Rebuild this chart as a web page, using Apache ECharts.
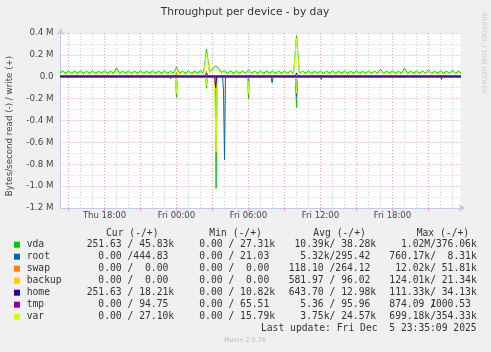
<!DOCTYPE html>
<html>
<head>
<meta charset="utf-8">
<script src="https://cdn.jsdelivr.net/npm/echarts@6/dist/echarts.min.js"></script>
<style>
  html, body { margin: 0; padding: 0; background: #f0f0f0; }
  #chart { width: 491px; height: 352px; }
</style>
</head>
<body>
<div id="chart"></div>
<script>
// x values are minutes since Thu 00:00, y values are kB/s (read negative, write positive)
const X_MIN = 860    // Thu 14:20
const X_MAX = 2860   // Fri 23:40

// grid / label positions on the time axis
const majorTicks = [900, 1080, 1260, 1440, 1620, 1800, 1980, 2160, 2340, 2520, 2700]
const hourTicks = [960, 1020, 1140, 1200, 1320, 1380, 1500, 1560, 1680, 1740, 1860, 1920,
  2040, 2100, 2220, 2280, 2400, 2460, 2580, 2640, 2760, 2820]
const labelTicks = [1080, 1440, 1800, 2160, 2520]
const labelText = ['Thu 18:00', 'Fri 00:00', 'Fri 06:00', 'Fri 12:00', 'Fri 18:00']

// write values on a 15 minute grid starting Thu 14:15
const vdaWrite = [
  32, 54, 32, 52, 33, 53, 32, 55, 31, 52,
  32, 53, 32, 52, 33, 54, 32, 53, 32, 82,
  32, 52, 33, 54, 32, 52, 32, 53, 33, 52,
  32, 54, 32, 52, 33, 53, 32, 52, 32, 90,
  33, 52, 32, 54, 32, 53, 32, 55, 33, 253,
  45, 70, 100, 75, 40, 56, 33, 54, 32, 52,
  32, 53, 33, 65, 32, 53, 32, 52, 32, 54,
  33, 52, 32, 53, 32, 52, 33, 54, 32, 376,
  33, 52, 32, 54, 32, 52, 33, 53, 32, 52,
  32, 54, 33, 52, 32, 53, 32, 52, 33, 54,
  32, 52, 32, 53, 33, 52, 32, 70, 32, 52,
  33, 54, 32, 52, 32, 77, 33, 52, 32, 54,
  32, 53, 33, 65, 32, 52, 32, 54, 33, 52,
  32, 60, 32, 53, 32
]
const varWrite = [
  19, 42, 19, 40, 20, 42, 19, 43, 19, 41,
  19, 42, 20, 40, 19, 42, 19, 41, 19, 60,
  19, 41, 20, 42, 19, 40, 19, 42, 20, 41,
  19, 42, 19, 40, 20, 41, 19, 42, 19, 70,
  20, 41, 19, 42, 19, 40, 19, 43, 20, 220,
  35, 55, 70, 50, 30, 44, 20, 42, 19, 41,
  19, 42, 20, 50, 19, 41, 19, 40, 19, 42,
  20, 41, 19, 42, 19, 40, 20, 42, 19, 354,
  20, 41, 19, 42, 19, 40, 20, 42, 19, 41,
  19, 42, 20, 40, 19, 41, 19, 42, 20, 43,
  19, 41, 19, 42, 20, 40, 19, 55, 19, 41,
  20, 42, 19, 41, 19, 60, 20, 41, 19, 42,
  19, 41, 20, 52, 19, 40, 19, 42, 20, 41,
  19, 48, 19, 42, 19
]
const writeTimes = vdaWrite.map((_, k) => 855 + 15 * k)

// sparse [minute, kB/s] series
const homeWrite   = [[855, 9], [1585, 9], [1590, 30], [1595, 9], [2035, 9], [2040, 34], [2045, 9], [2865, 9]]
const swapWrite   = [[855, 0], [1435, 0], [1440, 45], [1445, 0], [1585, 0], [1590, 52], [1595, 0], [2865, 0]]
const backupWrite = [[855, 0], [1585, 0], [1590, 21], [1595, 0], [2865, 0]]
const rootWrite   = [[855, 0], [2035, 0], [2040, 8], [2045, 0], [2865, 0]]
const tmpWrite    = [[855, 0], [2865, 0]]

const vdaRead = [[855, 0], [1435, 0], [1440, -190], [1445, 0], [1585, 0], [1590, -105], [1595, 0],
  [1633, 0], [1638, -1020], [1643, 0], [1795, 0], [1800, -200], [1805, 0],
  [2035, 0], [2040, -280], [2045, 0], [2865, 0]]
const rootRead = [[855, 0], [1405, 0], [1410, -20], [1415, 0], [1670, 0], [1675, -120], [1680, -760], [1685, 0],
  [1730, 0], [1735, -10], [1795, -10], [1800, -40], [1805, 0], [1913, 0], [1918, -55], [1923, 0],
  [2035, 0], [2040, -180], [2045, 0], [2158, 0], [2163, -25], [2168, 0], [2760, 0], [2765, -25], [2770, 0], [2865, 0]]
const varRead = [[855, 0], [1435, 0], [1440, -150], [1445, 0], [1585, 0], [1590, -80], [1595, 0],
  [1628, 0], [1633, -250], [1638, -690], [1643, -150], [1648, 0], [1795, 0], [1800, -150], [1805, 0],
  [2035, 0], [2040, -150], [2045, 0], [2296, 0], [2301, -20], [2306, 0], [2580, 0], [2585, -15], [2590, 0],
  [2695, 0], [2700, -20], [2705, 0], [2865, 0]]
const homeRead   = [[855, 0], [1631, 0], [1636, -100], [1641, 0], [2865, 0]]
const backupRead = [[855, 0], [1633, 0], [1638, -124], [1643, 0], [2865, 0]]
const swapRead   = [[855, 0], [1633, 0], [1638, -12], [1643, 0], [2865, 0]]
const tmpRead    = [[855, 0], [2865, 0]]

const COLORS = {
  vda: '#00cc00', root: '#0066b3', swap: '#ff8000', backup: '#ffcc00',
  home: '#330099', tmp: '#990099', var: '#ccff00',
}

// legend table text
const legendHeaders = ['Cur (-/+)', 'Min (-/+)', 'Avg (-/+)', 'Max (-/+)']
const legendRows = [
  ['vda',    '251.63 / 45.83k', '  0.00 / 27.31k', ' 10.39k/ 38.28k', '  1.02M/376.06k'],
  ['root',   '  0.00 /444.83 ', '  0.00 / 21.03 ', '  5.32k/295.42 ', '760.17k/  8.31k'],
  ['swap',   '  0.00 /  0.00 ', '  0.00 /  0.00 ', '118.10 /264.12 ', ' 12.02k/ 51.81k'],
  ['backup', '  0.00 /  0.00 ', '  0.00 /  0.00 ', '581.97 / 96.02 ', '124.01k/ 21.34k'],
  ['home',   '251.63 / 18.21k', '  0.00 / 10.82k', '643.70 / 12.98k', '111.33k/ 34.13k'],
  ['tmp',    '  0.00 / 94.75 ', '  0.00 / 65.51 ', '  5.36 / 95.96 ', '874.09 1000.53'],
  ['var',    '  0.00 / 27.10k', '  0.00 / 15.79k', '  3.75k/ 24.57k', '699.18k/354.33k'],
]
const lastUpdate = 'Last update: Fri Dec  5 23:35:09 2025'

const MONO = '9.7px "DejaVu Sans Mono"'
const CH = 5.85
const colX = [86.7, 187.6, 288.7, 389.3]
const headX = [106, 209.3, 313.3, 416.7]

const RED_GRID = { color: '#f2a0a0', type: [1, 2], width: 1 }
const GREY_GRID = { color: '#cfcfcf', type: [1, 2], width: 1 }

function line(data, color) {
  return {
    type: 'line', data, symbol: 'none', silent: true,
    lineStyle: { color, width: 1 },
  }
}

function txt(x, y, text, font, fill, align, extra) {
  return Object.assign({
    type: 'text', x, y, silent: true,
    style: { text, font, fill, align: align || 'left', verticalAlign: 'middle' },
  }, extra || {})
}

const graphics = [
  txt(245, 12, 'Throughput per device - by day', '10.7px "DejaVu Sans"', '#333', 'center'),
  txt(10, 126, 'Bytes/second read (-) / write (+)', '8.7px "DejaVu Sans"', '#444', 'center', { rotation: Math.PI / 2 }),
  txt(484, 53, 'RRDTOOL / TOBI OETIKER', '6.3px "DejaVu Sans"', '#c8c8c8', 'center', { rotation: -Math.PI / 2 }),
  txt(245, 340, 'Munin 2.0.76', '6.4px "DejaVu Sans"', '#bbb', 'center'),
  txt(476.7, 328.7, lastUpdate, MONO, '#333', 'right'),
]
legendHeaders.forEach((h, i) => graphics.push(txt(headX[i], 233.3, h, MONO, '#333')))
legendRows.forEach((row, r) => {
  const y = 244.7 + 12 * r
  graphics.push({
    type: 'rect', silent: true,
    shape: { x: 14, y: y - 3, width: 6, height: 6 },
    style: { fill: COLORS[row[0]] },
  })
  graphics.push(txt(26.7, y, row[0], MONO, '#333'))
  for (let c = 0; c < 4; c++) graphics.push(txt(colX[c], y, row[c + 1], MONO, '#333'))
  if (row[0] === 'tmp') graphics.push(txt(colX[3] + 7 * CH, y, '/', MONO, '#333'))
})

// flat tmp read line also carries the vertical grid lines (markLines, behind the data)
function gridLines(values, style) {
  return values.map(v => ({ xAxis: v, lineStyle: style }))
}
const tmpReadSeries = line(tmpRead, COLORS.tmp)
tmpReadSeries.z = 3
tmpReadSeries.markLine = {
  silent: true, symbol: ['none', 'none'], z: 1, animation: false,
  label: { show: false },
  data: gridLines(hourTicks, GREY_GRID).concat(gridLines(majorTicks, RED_GRID)),
}

const option = {
  animation: false,
  backgroundColor: '#f0f0f0',
  grid: {
    left: 60.5, top: 33, width: 400, height: 175,
    show: true, backgroundColor: '#ffffff', borderWidth: 0,
  },
  xAxis: {
    type: 'value', min: X_MIN, max: X_MAX,
    axisLine: {
      onZero: false, symbol: ['none', 'arrow'], symbolSize: [6, 7], symbolOffset: [0, 5],
      lineStyle: { color: '#c4c8f0', width: 1 },
    },
    axisTick: { show: true, length: 3, customValues: majorTicks, lineStyle: { color: '#f2a0a0' } },
    axisLabel: {
      color: '#444', fontSize: 8.5, fontFamily: 'DejaVu Sans', margin: 3,
      customValues: labelTicks,
      formatter: v => labelText[labelTicks.indexOf(v)] || '',
    },
    splitLine: { show: false },
  },
  yAxis: {
    type: 'value', min: -1200, max: 400, interval: 200,
    axisLine: {
      show: true, symbol: ['none', 'arrow'], symbolSize: [6, 7], symbolOffset: [0, 5],
      lineStyle: { color: '#c4c8f0', width: 1 },
    },
    axisTick: { show: false },
    axisLabel: {
      color: '#444', fontSize: 8.7, fontFamily: 'DejaVu Sans', margin: 7,
      formatter: v => (v === 0 ? '0.0' : (v / 1000).toFixed(1) + ' M'),
    },
    splitLine: { show: true, lineStyle: RED_GRID },
    minorTick: { show: false, splitNumber: 2 },
    minorSplitLine: { show: true, lineStyle: GREY_GRID },
  },
  graphic: graphics,
  series: [
    line(vdaRead, COLORS.vda),
    line(rootRead, COLORS.root),
    line(swapRead, COLORS.swap),
    line(backupRead, COLORS.backup),
    tmpReadSeries,
    line(varRead, COLORS.var),
    line(rootWrite, COLORS.root),
    line(swapWrite, COLORS.swap),
    line(backupWrite, COLORS.backup),
    line(tmpWrite, COLORS.tmp),
    line(vdaWrite.map((v, k) => [writeTimes[k], v]), COLORS.vda),
    line(varWrite.map((v, k) => [writeTimes[k], v]), COLORS.var),
    line(homeRead, COLORS.home),
    line(homeWrite, COLORS.home),
  ],
}

const chart = echarts.init(document.getElementById('chart'), null, { renderer: 'canvas' })
chart.setOption(option)
</script>
</body>
</html>
